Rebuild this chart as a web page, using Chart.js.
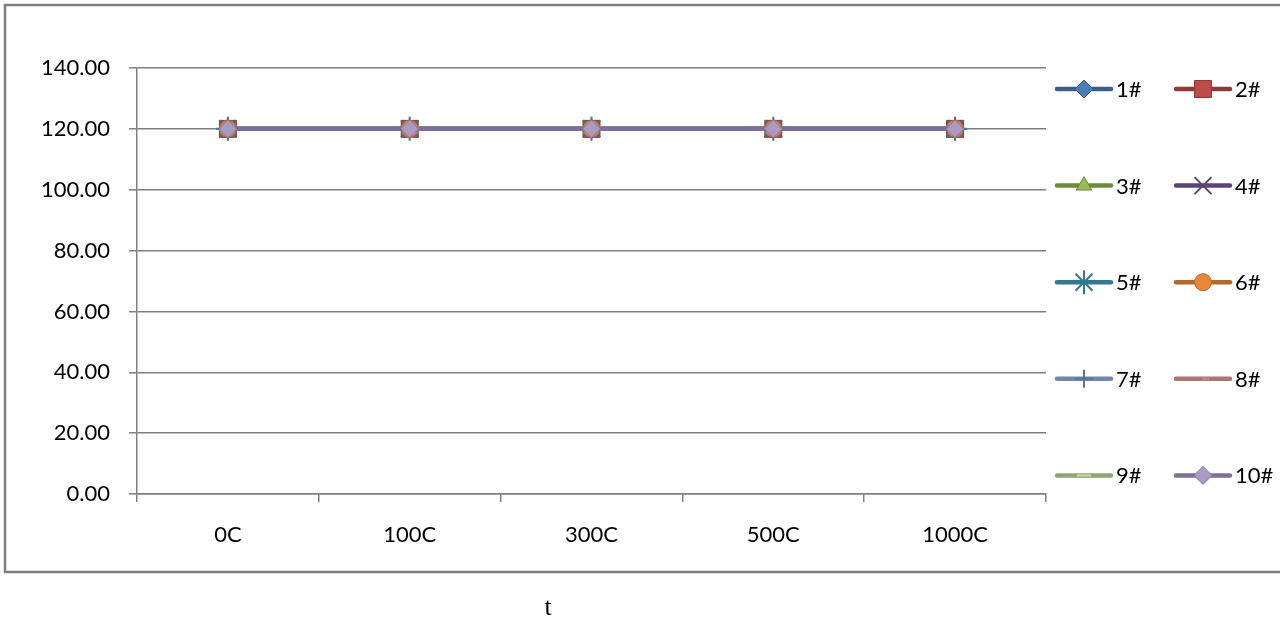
<!DOCTYPE html>
<html>
<head>
<meta charset="utf-8">
<script src="https://cdn.jsdelivr.net/npm/chart.js@4"></script>
<style>
  html, body { margin: 0; padding: 0; background: #fff; }
  #wrap { width: 1280px; height: 628px; position: relative; }
</style>
</head>
<body>
<div id="wrap"><canvas id="chart1"></canvas></div>
<script>
// categories + series (all samples read as 120.00)
const cycles = ['0C', '100C', '300C', '500C', '1000C'];
const series_names = ['1#', '2#', '3#', '4#', '5#', '6#', '7#', '8#', '9#', '10#'];
const s1 = [120, 120, 120, 120, 120];
const s2 = [120, 120, 120, 120, 120];
const s3 = [120, 120, 120, 120, 120];
const s4 = [120, 120, 120, 120, 120];
const s5 = [120, 120, 120, 120, 120];
const s6 = [120, 120, 120, 120, 120];
const s7 = [120, 120, 120, 120, 120];
const s8 = [120, 120, 120, 120, 120];
const s9 = [120, 120, 120, 120, 120];
const s10 = [120, 120, 120, 120, 120];
const series_values = [s1, s2, s3, s4, s5, s6, s7, s8, s9, s10];
const y_min = 0, y_max = 140, y_step = 20;
const x_title = 't';

// excel-ish styling
const line_colors   = ['#3A5F8F', '#8E3A38', '#6D8B3A', '#5A4478', '#2F7A8D', '#B4682C', '#7287AE', '#AD7573', '#8FA66E', '#7D6F98'];
const marker_fill   = ['#4A7EBB', '#BE4B48', '#98B954', '#5A4478', '#2F7A8D', '#E8873A', '#5F7399', '#C68E8C', '#C9DAAE', '#A99BC5'];
const marker_border = ['#3A5F8F', '#8E3A38', '#6D8B3A', '#5A4478', '#2F7A8D', '#B4682C', '#5F7399', '#C68E8C', '#C9DAAE', '#8476A0'];
const marker_style  = ['rectRot', 'rect', 'triangle', 'crossRot', 'star', 'circle', 'cross', 'dash', 'line', 'rectRot'];
const marker_size   = [9, 12, 9, 12, 12, 8.5, 9, 6, 7, 9];

const FONT = 'Lato';

const ctx1 = document.getElementById('chart1').getContext('2d');

// white bg, grey frame and the "t" caption under the frame
const frame_plugin = {
  id: 'frame',
  beforeDraw(chart) {
    const c = chart.ctx;
    c.save();
    c.fillStyle = '#fff';
    c.fillRect(0, 0, chart.width, chart.height);
    c.strokeStyle = '#7F7F7F';
    c.lineWidth = 2.5;
    c.strokeRect(5, 5, 1300, 567);
    c.fillStyle = '#000';
    c.font = "26px 'Liberation Serif', 'Times New Roman', serif";
    c.textAlign = 'center';
    c.textBaseline = 'middle';
    c.fillText(x_title, 548, 608);
    c.restore();
  }
};

// legend on the right, 2 columns x 5 rows
const side_legend = {
  id: 'sideLegend',
  afterDraw(chart) {
    const c = chart.ctx;
    c.save();
    chart.data.datasets.forEach((ds, i) => {
      const col = i % 2, row = Math.floor(i / 2);
      const x = 1057 + col * 119;
      const y = 89 + row * 96.6;
      c.strokeStyle = ds.borderColor;
      c.lineWidth = ds.borderWidth;
      c.lineCap = 'round';
      c.beginPath();
      c.moveTo(x, y);
      c.lineTo(x + 54, y);
      c.stroke();
      c.lineCap = 'butt';
      c.fillStyle = ds.pointBackgroundColor;
      c.strokeStyle = ds.pointBorderColor;
      c.lineWidth = ds.pointBorderWidth;
      Chart.helpers.drawPoint(c, {
        pointStyle: ds.pointStyle, radius: ds.pointRadius,
        borderWidth: ds.pointBorderWidth, rotation: 0
      }, x + 27, y);
      c.fillStyle = '#000';
      c.font = '22px ' + FONT;
      c.textAlign = 'left';
      c.textBaseline = 'middle';
      c.fillText(ds.label, x + 59, y + 1);
    });
    c.restore();
  }
};

let datasets = series_names.map((name, i) => ({
  label: name,
  data: series_values[i],
  borderColor: line_colors[i],
  backgroundColor: line_colors[i],
  borderWidth: 4.5,
  fill: false,
  tension: 0,
  pointStyle: marker_style[i],
  pointRadius: marker_size[i],
  pointHoverRadius: marker_size[i],
  pointBackgroundColor: marker_fill[i],
  pointBorderColor: marker_border[i],
  pointBorderWidth: (marker_style[i] == 'dash' || marker_style[i] == 'line' || marker_style[i] == 'cross' || marker_style[i] == 'crossRot' || marker_style[i] == 'star') ? 2 : 1,
  order: 10 - i
}));

let my_chart = new Chart(ctx1, {
  type: 'line',
  data: { labels: cycles, datasets: datasets },
  plugins: [frame_plugin, side_legend],
  options: {
    responsive: true,
    maintainAspectRatio: false,
    animation: false,
    layout: { padding: { left: 0, right: 234, top: 68, bottom: 0 } },
    plugins: {
      legend: { display: false },
      tooltip: { enabled: false },
      title: { display: false }
    },
    scales: {
      x: {
        offset: true,
        grid: { offset: true, drawOnChartArea: false, drawTicks: true, tickLength: 8, color: '#7F7F7F', lineWidth: 1.5 },
        border: { color: '#7F7F7F', width: 1.5 },
        ticks: { color: '#000', font: { family: FONT, size: 22 }, padding: 20, maxRotation: 0 },
        afterFit(scale) { scale.height = 134; }
      },
      y: {
        min: y_min,
        max: y_max,
        grid: { color: '#7F7F7F', lineWidth: 1.5, tickLength: 8 },
        border: { color: '#7F7F7F', width: 1.5 },
        ticks: {
          stepSize: y_step,
          color: '#000',
          font: { family: FONT, size: 22 },
          padding: 19,
          callback: (v) => v.toFixed(2)
        },
        afterFit(scale) { scale.width = 137; }
      }
    }
  }
});
</script>
</body>
</html>
